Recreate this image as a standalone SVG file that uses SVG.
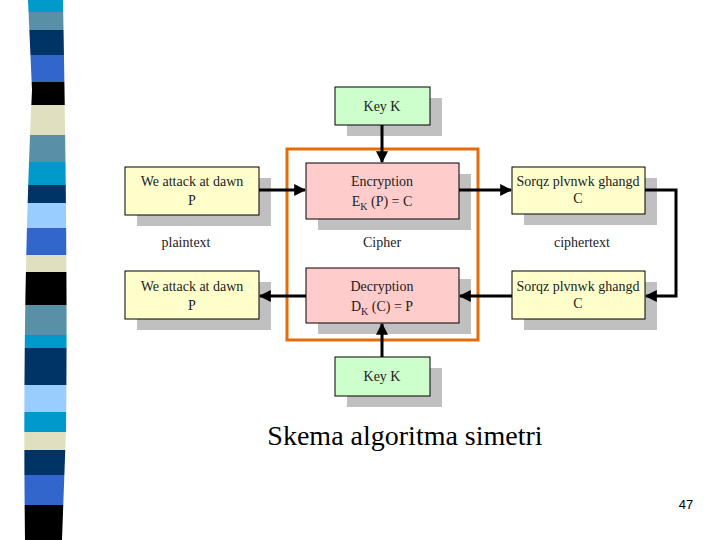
<svg xmlns="http://www.w3.org/2000/svg" width="720" height="540" viewBox="0 0 720 540">
<style>
.t{font-size:14px;fill:#222;text-anchor:middle}
.sh{fill:#c0c0c0}
.bx{stroke:#000;stroke-width:1}
.ln{stroke:#000;stroke-width:3;fill:none}
</style>
<defs>
<marker id="a" viewBox="0 0 10 10" refX="9" refY="5" markerWidth="4" markerHeight="4" orient="auto"><path d="M0,0L10,5L0,10z" fill="#000"/></marker>
<clipPath id="c"><path d="M28,0 L63,0 Q68,270 66,430 L62,540 L25,540 Q22,300 32,90 Z"/></clipPath>
</defs>
<rect width="720" height="540" fill="#fff"/>
<g clip-path="url(#c)">
<rect x="0" y="0" width="80" height="12" fill="#0099cc"/>
<rect x="0" y="12" width="80" height="18" fill="#5a8fa8"/>
<rect x="0" y="30" width="80" height="25" fill="#003366"/>
<rect x="0" y="55" width="80" height="27" fill="#3366cc"/>
<rect x="0" y="82" width="80" height="23" fill="#000"/>
<rect x="0" y="105" width="80" height="30" fill="#e0e0c0"/>
<rect x="0" y="135" width="80" height="27" fill="#5a8fa8"/>
<rect x="0" y="162" width="80" height="23" fill="#0099cc"/>
<rect x="0" y="185" width="80" height="18" fill="#003366"/>
<rect x="0" y="203" width="80" height="25" fill="#99ccff"/>
<rect x="0" y="228" width="80" height="27" fill="#3366cc"/>
<rect x="0" y="255" width="80" height="17" fill="#e0e0c0"/>
<rect x="0" y="272" width="80" height="33" fill="#000"/>
<rect x="0" y="305" width="80" height="30" fill="#5a8fa8"/>
<rect x="0" y="335" width="80" height="13" fill="#0099cc"/>
<rect x="0" y="348" width="80" height="37" fill="#003366"/>
<rect x="0" y="385" width="80" height="27" fill="#99ccff"/>
<rect x="0" y="412" width="80" height="20" fill="#0099cc"/>
<rect x="0" y="432" width="80" height="18" fill="#e0e0c0"/>
<rect x="0" y="450" width="80" height="25" fill="#003366"/>
<rect x="0" y="475" width="80" height="30" fill="#3366cc"/>
<rect x="0" y="505" width="80" height="35" fill="#000"/>
</g>
<rect x="287" y="149" width="191" height="191" fill="none" stroke="#e46c0a" stroke-width="3"/>
<g font-family="Liberation Serif, serif">
<g id="keyTop"><rect class="sh" x="347" y="98" width="95" height="38"/><rect class="bx" x="335" y="87" width="95" height="38" fill="#ccffcc"/><text class="t" x="382" y="111">Key K</text></g>
<g id="enc"><rect class="sh" x="318" y="174" width="153" height="56"/><rect class="bx" x="306" y="163" width="153" height="56" fill="#ffcccc"/><text class="t" x="382" y="186">Encryption</text><text class="t" x="382" y="206">E<tspan font-size="10" dy="4">K</tspan><tspan dy="-4"> (P) = C</tspan></text></g>
<g id="ptTop"><rect class="sh" x="137" y="178" width="134" height="48"/><rect class="bx" x="125" y="167" width="134" height="48" fill="#ffffcc"/><text class="t" x="192" y="186">We attack at dawn</text><text class="t" x="192" y="205">P</text></g>
<g id="ctTop"><rect class="sh" x="524" y="178" width="133" height="47"/><rect class="bx" x="512" y="167" width="133" height="47" fill="#ffffcc"/><text class="t" x="578" y="186">Sorqz plvnwk ghangd</text><text class="t" x="578" y="203">C</text></g>
<text class="t" x="186" y="247">plaintext</text>
<text class="t" x="382" y="247">Cipher</text>
<text class="t" x="582" y="247">ciphertext</text>
<g id="dec"><rect class="sh" x="318" y="279" width="153" height="55"/><rect class="bx" x="306" y="268" width="153" height="55" fill="#ffcccc"/><text class="t" x="382" y="291">Decryption</text><text class="t" x="382" y="311">D<tspan font-size="10" dy="4">K</tspan><tspan dy="-4"> (C) = P</tspan></text></g>
<g id="ptBot"><rect class="sh" x="137" y="282" width="134" height="48"/><rect class="bx" x="125" y="271" width="134" height="48" fill="#ffffcc"/><text class="t" x="192" y="291">We attack at dawn</text><text class="t" x="192" y="310">P</text></g>
<g id="ctBot"><rect class="sh" x="524" y="282" width="133" height="48"/><rect class="bx" x="512" y="271" width="133" height="48" fill="#ffffcc"/><text class="t" x="578" y="291">Sorqz plvnwk ghangd</text><text class="t" x="578" y="308">C</text></g>
<g id="keyBot"><rect class="sh" x="347" y="368" width="95" height="39"/><rect class="bx" x="335" y="357" width="95" height="39" fill="#ccffcc"/><text class="t" x="382" y="381">Key K</text></g>
<text x="405" y="445" font-size="28" text-anchor="middle" fill="#000">Skema algoritma simetri</text>
</g>
<g id="connectors">
<line class="ln" x1="382" y1="125" x2="382" y2="162" marker-end="url(#a)"/>
<line class="ln" x1="259" y1="190" x2="305" y2="190" marker-end="url(#a)"/>
<line class="ln" x1="459" y1="190" x2="511" y2="190" marker-end="url(#a)"/>
<path class="ln" d="M645,190 H676 V296 H646" marker-end="url(#a)"/>
<line class="ln" x1="512" y1="296" x2="460" y2="296" marker-end="url(#a)"/>
<line class="ln" x1="306" y1="296" x2="260" y2="296" marker-end="url(#a)"/>
<line class="ln" x1="382" y1="357" x2="382" y2="324" marker-end="url(#a)"/>
</g>
<text x="686" y="509" font-family="Liberation Sans, sans-serif" font-size="13" text-anchor="middle" fill="#000">47</text>
</svg>
